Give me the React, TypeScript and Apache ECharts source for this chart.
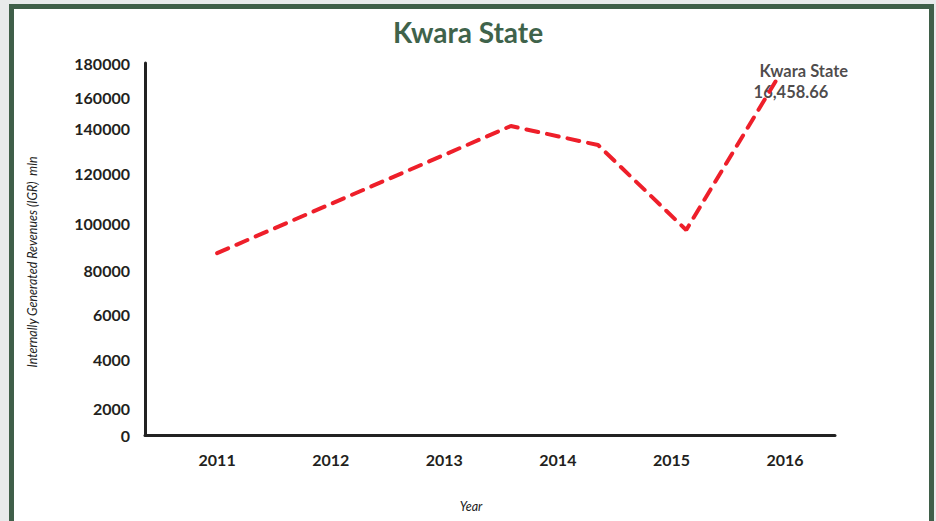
import React, { useEffect, useRef } from "react";
import * as echarts from "echarts";

const years = [2011, 2012, 2013, 2014, 2015, 2016];
// y tick labels as printed, and the axis positions at which they are printed
const yTickLabels = ["0", "2000", "4000", "6000", "80000", "100000", "120000", "140000", "160000", "180000"];
const yTickValues = [0, 12600, 36300, 58100, 79800, 102100, 126300, 148100, 163500, 180000];
// line points [year position, IGR]
const lineX = [2011, 2013.586, 2014.354, 2015.13, 2015.93];
const lineY = [88000, 149500, 140300, 99200, 172300];
const annotation = ["Kwara State", "16,458.66"];

export default function App() {
  const ref = useRef<HTMLDivElement>(null);
  useEffect(() => {
    if (!ref.current) return;
    const chart = echarts.init(ref.current, undefined, { renderer: "svg" });
    const labelMap: Record<string, string> = {};
    yTickValues.forEach((v, i) => (labelMap[String(v)] = yTickLabels[i]));
    const pts = lineX.map((x, i) => [x, lineY[i]]);
    const last = pts[pts.length - 1];
    chart.setOption({
      animation: false,
      backgroundColor: "#e8eaeb",
      textStyle: { fontFamily: "Lato" },
      graphic: [
        {
          type: "rect",
          z: -10,
          silent: true,
          shape: { x: 11.5, y: 6.5, width: 920, height: 600 },
          style: { fill: "#ffffff", stroke: "#3f5f49", lineWidth: 5 },
        },
        {
          type: "text",
          x: 32,
          y: 262,
          rotation: Math.PI / 2,
          style: {
            text: "Internally Generated Revenues (IGR)  mln",
            fontFamily: "Lato",
            fontStyle: "italic",
            fontSize: 12.5,
            fill: "#222",
            align: "center",
            verticalAlign: "middle",
          },
        },
        {
          type: "text",
          x: 471,
          y: 506,
          style: {
            text: "Year",
            fontFamily: "Lato",
            fontStyle: "italic",
            fontSize: 12.5,
            fill: "#222",
            align: "center",
            verticalAlign: "middle",
          },
        },
      ],
      title: {
        text: "Kwara State",
        left: "center",
        top: 13,
        textStyle: { fontFamily: "Lato", fontWeight: "bold", fontSize: 28, color: "#3f634b" },
      },
      grid: { left: 145, right: 101, top: 63, bottom: 86 },
      xAxis: {
        type: "value",
        min: 2010.365,
        max: 2016.44,
        splitLine: { show: false },
        axisTick: { show: false },
        axisLine: { lineStyle: { color: "#222", width: 3 } },
        axisLabel: {
          customValues: years,
          formatter: (v: number) => String(v),
          margin: 16,
          fontFamily: "Lato",
          fontWeight: "bold",
          fontSize: 16,
          color: "#231f20",
        },
      },
      yAxis: {
        type: "value",
        min: 0,
        max: 180000,
        splitLine: { show: false },
        axisTick: { show: false },
        axisLine: { show: true, lineStyle: { color: "#222", width: 3 } },
        axisLabel: {
          customValues: yTickValues,
          formatter: (v: number) => labelMap[String(v)] ?? "",
          margin: 15,
          fontFamily: "Lato",
          fontWeight: "bold",
          fontSize: 16,
          color: "#231f20",
        },
      },
      series: [
        {
          type: "line",
          data: pts,
          showSymbol: false,
          symbol: "none",
          lineStyle: { color: "#ee1f2a", width: 4, type: [12, 9], cap: "round" },
        },
        {
          type: "scatter",
          data: [last],
          symbolSize: 1,
          itemStyle: { color: "rgba(0,0,0,0)" },
          label: {
            show: true,
            position: [-23, -18],
            align: "left",
            verticalAlign: "top",
            formatter: "{a|" + annotation[0] + "}\n{b|" + annotation[1] + "}",
            rich: {
              a: { fontFamily: "Lato", fontWeight: "bold", fontSize: 16.5, color: "#1e1a1b", lineHeight: 21, padding: [0, 0, 0, 6] },
              b: { fontFamily: "Lato", fontWeight: "bold", fontSize: 16.5, color: "#1e1a1b", lineHeight: 21 },
            },
          },
        },
      ],
    });
    return () => chart.dispose();
  }, []);
  return (
    <div
      ref={ref}
      style={{ position: "absolute", left: 0, top: 0, width: 936, height: 521 }}
    />
  );
}
